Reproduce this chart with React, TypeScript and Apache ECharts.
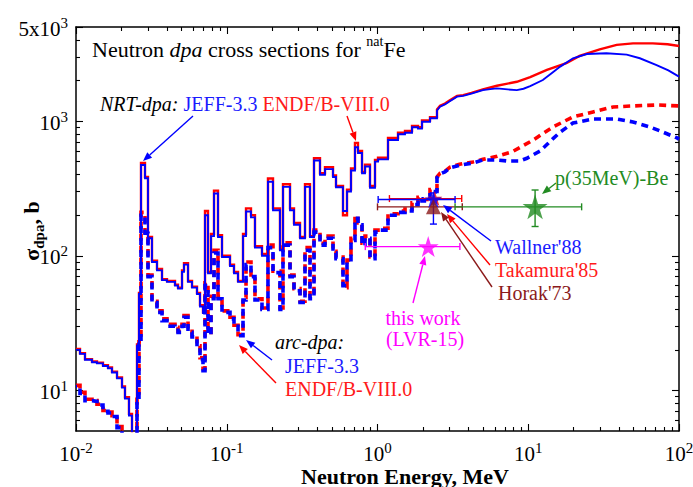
import React, { useEffect, useRef } from 'react';
import * as echarts from 'echarts';

const FONT = '"Liberation Serif", "Times New Roman", Times, serif';
const BLUE = '#0000ff';
const RED = '#ff0000';
const BLUE_T = '#1a1aff';
const RED_T = '#ff1a1a';
const BROWN = '#8b1a1a';
const MAGENTA = '#ff00ff';
const GREEN = '#228b22';

// ---- Energy group lower edges (MeV) of the histogram (group-wise) part ----
const groupEdges = [0.0100, 0.01063, 0.01147, 0.01277, 0.01378, 0.01510, 0.01630, 0.01733, 0.01871, 0.02019,
  0.02113, 0.02246, 0.02352, 0.02539, 0.02617, 0.02699, 0.02869, 0.03003, 0.03192, 0.03446,
  0.03720, 0.04014, 0.04537, 0.04750, 0.05050, 0.05205, 0.05534, 0.05883, 0.06348, 0.06646,
  0.06958, 0.07174, 0.07510, 0.07862, 0.08231, 0.08750, 0.09301, 0.1051, 0.1117, 0.1188,
  0.1282, 0.1342, 0.1448, 0.1539, 0.1713, 0.1877, 0.2027, 0.2255, 0.2361, 0.2628,
  0.2793, 0.3062, 0.3304, 0.3566, 0.3791, 0.4155, 0.4484, 0.5068, 0.5305, 0.5904,
  0.6276, 0.6671, 0.7090, 0.7423, 0.7893, 0.8263, 0.8917, 0.9625, 1.008, 1.174,
  1.368, 1.522, 1.694, 1.857, 1.973, 2.230];

// NRT-dpa, JEFF-3.3 (b), group values
const nrtJeff = [20.0, 18.7, 16.9, 16.2, 15.9, 15.2, 14.6, 13.6, 12.3, 10.5,
  8.7, 6.5, 3.0, 21.5, 52, 472, 377, 135, 90, 78,
  66, 64, 60, 57, 76, 86, 64, 58, 52, 42,
  37.5, 200, 74, 140, 290, 138, 98, 84, 74, 64,
  140, 213, 193, 115, 100, 355, 218, 110, 325, 218,
  170, 135, 325, 138, 510, 400, 440, 385, 323, 215,
  300, 430, 640, 580, 410, 460, 320, 500, 520, 725,
  800, 820, 900, 880, 990, 1050];
// NRT-dpa, ENDF/B-VIII.0
const nrtEndf = [20.3, 18.9, 17.1, 16.4, 16.1, 15.4, 14.8, 13.8, 12.5, 10.7,
  8.9, 6.7, 3.0, 22, 53, 490, 385, 138, 92, 80,
  67, 65, 61, 58, 78, 88, 65, 59, 53, 43,
  38, 215, 76, 145, 305, 142, 100, 86, 76, 65,
  145, 225, 200, 118, 103, 375, 225, 112, 340, 225,
  175, 138, 340, 140, 530, 410, 455, 395, 330, 200,
  310, 445, 690, 600, 420, 475, 330, 515, 535, 750,
  820, 845, 920, 900, 1010, 1070];
// arc-dpa, JEFF-3.3
const arcJeff = [10.7, 9.5, 8.4, 8.3, 7.8, 7.0, 6.8, 6.4, 5.3, 4.3,
  3.5, 3.0, 2.0, 8.4, 22, 200, 147, 70, 45, 38,
  33, 30, 29, 27, 30, 35, 27, 25, 21, 17,
  14, 60, 26, 48, 105, 48, 38, 34, 30, 25.5,
  47, 86, 70, 47, 40, 115, 75, 40, 120, 70,
  55, 45, 110, 48, 150, 120, 135, 105, 95, 60,
  90, 130, 190, 170, 120, 135, 95, 150, 155, 200,
  210, 215, 240, 265, 255, 300];
// arc-dpa, ENDF/B-VIII.0
const arcEndf = [10.9, 9.7, 8.6, 8.4, 7.9, 7.1, 6.9, 6.5, 5.4, 4.4,
  3.5, 3.0, 2.0, 8.6, 23, 210, 150, 72, 46, 39,
  34, 31, 29.5, 27.5, 31, 36, 27.5, 25.5, 21.5, 17.5,
  14.5, 63, 27, 50, 110, 50, 39, 35, 30.5, 26,
  49, 90, 72, 48, 41, 120, 77, 41, 125, 72,
  57, 46, 115, 50, 155, 124, 140, 108, 98, 58,
  93, 135, 198, 175, 124, 140, 98, 155, 160, 205,
  215, 222, 248, 272, 262, 310];

// ---- continuous (high-energy) part ----
const nrtJeffHiE = [2.481, 2.6, 2.8, 3.0, 3.37, 3.7, 4.2, 5.0, 5.6, 6.2, 7.3, 8.4, 9.3, 10.3, 12.5, 14.5, 16.3, 19.8, 24.5, 33, 45, 55, 71, 85, 100];
const nrtJeffHiS = [1200, 1280, 1330, 1400, 1520, 1540, 1600, 1700, 1730, 1750, 1720, 1700, 1740, 1820, 2020, 2300, 2540, 2930, 3150, 3190, 3120, 2930, 2610, 2380, 2140];
const nrtEndfHiE = [2.481, 2.6, 2.8, 3.0, 3.37, 3.7, 4.2, 5.0, 6.2, 8.4, 10.3, 13.3, 17.9, 21.9, 29.8, 38.6, 49.5, 67, 84, 100];
const nrtEndfHiS = [1220, 1300, 1350, 1420, 1540, 1560, 1620, 1720, 1830, 1960, 2120, 2400, 2690, 3050, 3410, 3680, 3780, 3780, 3720, 3610];
const arcJeffHiE = [2.481, 2.6, 2.8, 3.03, 3.5, 4.3, 5.0, 6.2, 7.2, 8.8, 9.8, 12, 13.3, 14.6, 16.3, 19.8, 26.9, 38.8, 49.5, 64, 78, 97, 100];
const arcJeffHiS = [380, 405, 420, 450, 470, 489, 515, 515, 506, 506, 530, 600, 670, 741, 830, 968, 1037, 1037, 986, 905, 830, 750, 735];
const arcEndfHiE = [2.481, 2.6, 2.8, 3.03, 3.5, 4.3, 5.0, 6.2, 7.9, 10.8, 14.6, 19.8, 26.9, 36.5, 49.5, 71.4, 100];
const arcEndfHiS = [385, 410, 425, 455, 478, 498, 520, 548, 595, 725, 905, 1075, 1170, 1274, 1297, 1318, 1297];

// ---- experimental points ----
const expNames = ["Takamura'85", "Wallner'88", "Horak'73", 'this work (LVR-15)', 'p(35MeV)-Be'];
const expEnergy = [2.40, 2.35, 2.35, 2.17, 11.1];
const expSigma = [266, 262, 231, 117, 231];
const expELow = [1.2, 1.01, 1.0, 0.83, 3.27];
const expEHigh = [3.62, 3.27, 3.65, 3.52, 22.6];
const expSLow = [266, 172, 231, 117, 165];
const expSHigh = [266, 293, 231, 117, 308];
const expColors = [RED, BLUE, BROWN, MAGENTA, GREEN];
const STAR = 'path://M50,2 L61.8,38.2 L99.5,38.2 L69,60.5 L80.6,96.5 L50,74.3 L19.4,96.5 L31,60.5 L0.5,38.2 L38.2,38.2 Z';
const expSymbols = [STAR, STAR, 'triangle', STAR, STAR];
const expSizes = [15, 17, 15, 21, 25];

// ---- axis ticks ----
const xTickValues = [0.01, 0.1, 1, 10, 100];
const xTickExp = ['-2', '-1', '0', '1', '2'];
const yTickValues = [10, 100, 1000, 5000];
const yTickBase = ['10', '10', '10', '5x10'];
const yTickExp = ['1', '2', '3', '3'];

const log10 = Math.log10;

function buildCurve(vals: number[], hiE: number[], hiS: number[]) {
  const pts: number[][] = [];
  for (let i = 0; i < groupEdges.length; i++) {
    const hi = i + 1 < groupEdges.length ? groupEdges[i + 1] : hiE[0];
    pts.push([groupEdges[i], vals[i]], [hi, vals[i]]);
  }
  for (let j = 0; j < hiE.length; j++) pts.push([hiE[j], hiS[j]]);
  return pts;
}

function arrow(x1: number, y1: number, x2: number, y2: number, color: string) {
  const a = Math.atan2(y2 - y1, x2 - x1);
  const L = 9, W = 3.6;
  const bx = x2 - L * Math.cos(a), by = y2 - L * Math.sin(a);
  const px = -Math.sin(a) * W, py = Math.cos(a) * W;
  return [
    { type: 'line', z: 60, shape: { x1, y1, x2: bx, y2: by }, style: { stroke: color, lineWidth: 1.4 } },
    { type: 'polygon', z: 60, shape: { points: [[x2, y2], [bx + px, by + py], [bx - px, by - py]] }, style: { fill: color } },
  ];
}

function txt(x: number, y: number, text: string, color: string, extra: any = {}) {
  const align = extra.align || 'left';
  const fs = extra.fontSize || 20;
  const fst = extra.fontStyle || 'normal';
  const fw = extra.fontWeight || 'normal';
  return {
    type: 'text', x, y, z: 60,
    rotation: extra.rotation || 0,
    style: {
      text, fill: color, fontFamily: FONT, fontSize: fs, fontStyle: fst, fontWeight: fw,
      font: `${fst} ${fw} ${fs}px ${FONT}`,
      textAlign: align, textVerticalAlign: 'middle', align, verticalAlign: 'middle',
      rich: extra.rich,
    },
  };
}

function buildOption() {
  const xMajor = xTickValues.map(log10);
  const xMinor: number[] = [];
  for (const d of [0.01, 0.1, 1, 10]) for (let m = 2; m <= 9; m++) xMinor.push(log10(m * d));
  const yMajor = yTickValues.map(log10);
  const yMinor: number[] = [];
  for (let m = 6; m <= 9; m++) yMinor.push(log10(m));
  for (const d of [10, 100]) for (let m = 2; m <= 9; m++) yMinor.push(log10(m * d));
  for (let m = 2; m <= 4; m++) yMinor.push(log10(m * 1000));

  const lineStyle = { color: '#000', width: 1.5 };
  const tickStyle = { color: '#000', width: 1.1 };
  const labelRich = {
    b: { fontFamily: FONT, fontSize: 21, color: '#000', lineHeight: 24, verticalAlign: 'bottom' },
    s: { fontFamily: FONT, fontSize: 15, color: '#000', lineHeight: 15, verticalAlign: 'top' },
  };

  const xVal = (pos: string, ticks: number[], len: number, label: boolean, line: boolean) => ({
    type: 'value', min: -2, max: 2, position: pos,
    axisLine: { show: line, onZero: false, lineStyle },
    axisTick: { show: true, inside: true, length: len, customValues: ticks, lineStyle: tickStyle },
    axisLabel: label ? {
      show: true, customValues: xMajor, margin: 9, rich: labelRich, fontFamily: FONT,
      formatter: (v: number) => {
        const i = xMajor.findIndex((t) => Math.abs(t - v) < 1e-6);
        return i < 0 ? '' : '{b|10}{s|' + xTickExp[i] + '}';
      },
    } : { show: false },
    splitLine: { show: false },
  });
  const yVal = (pos: string, ticks: number[], len: number, label: boolean, line: boolean) => ({
    type: 'value', min: log10(5), max: log10(5000), position: pos,
    axisLine: { show: line, onZero: false, lineStyle },
    axisTick: { show: true, inside: true, length: len, customValues: ticks, lineStyle: tickStyle },
    axisLabel: label ? {
      show: true, customValues: yMajor, margin: 8, rich: labelRich, fontFamily: FONT,
      formatter: (v: number) => {
        const i = yMajor.findIndex((t) => Math.abs(t - v) < 1e-6);
        return i < 0 ? '' : '{b|' + yTickBase[i] + '}{s|' + yTickExp[i] + '}';
      },
    } : { show: false },
    splitLine: { show: false },
  });

  const curve = (name: string, data: number[][], color: string, width: number, type: any, offset = 0, z = 2) => ({
    name, type: 'line', xAxisIndex: 0, yAxisIndex: 0, data, showSymbol: false, symbol: 'none',
    clip: true, silent: true, z,
    lineStyle: { color, width, type, dashOffset: offset, cap: 'butt', join: 'miter' },
  });

  const titleRich = {
    n: { fontFamily: FONT, fontSize: 22, fill: '#000', lineHeight: 26, verticalAlign: 'bottom' },
    i: { fontFamily: FONT, fontSize: 22, fontStyle: 'italic', fill: '#000', lineHeight: 26, verticalAlign: 'bottom' },
    s: { fontFamily: FONT, fontSize: 14, fill: '#000', lineHeight: 15, verticalAlign: 'top' },
  };
  const nrtRich = {
    i: { fontFamily: FONT, fontSize: 20, fontStyle: 'italic', fill: '#000' },
    bl: { fontFamily: FONT, fontSize: 20, fill: BLUE_T },
    rd: { fontFamily: FONT, fontSize: 20, fill: RED_T },
  };
  const yTitleRich = {
    b: { fontFamily: FONT, fontSize: 22, fontWeight: 'bold', fill: '#000', lineHeight: 26, verticalAlign: 'top' },
    sub: { fontFamily: FONT, fontSize: 15, fontWeight: 'bold', fill: '#000', lineHeight: 13, verticalAlign: 'bottom' },
  };

  const graphics: any[] = [
    txt(92, 47, '{n|Neutron }{i|dpa}{n| cross sections for }{s|nat}{n|Fe}', '#000', { rich: titleRich, fontSize: 22 }),
    txt(100, 104, '{i|NRT-dpa:} {bl|JEFF-3.3} {rd|ENDF/B-VIII.0}', '#000', { rich: nrtRich }),
    txt(275, 342, 'arc-dpa:', '#000', { fontStyle: 'italic' }),
    txt(285, 366, 'JEFF-3.3', BLUE_T),
    txt(285, 389, 'ENDF/B-VIII.0', RED_T),
    txt(555, 178, 'p(35MeV)-Be', GREEN),
    txt(495, 247, "Wallner'88", BLUE_T),
    txt(495, 270, "Takamura'85", RED_T),
    txt(498, 293, "Horak'73", BROWN),
    txt(423, 318, 'this work', MAGENTA, { align: 'center' }),
    txt(425, 339, '(LVR-15)', MAGENTA, { align: 'center' }),
    txt(405, 476, 'Neutron Energy, MeV', '#000', { align: 'center', fontWeight: 'bold', fontSize: 22 }),
    txt(33, 231, '{b|σ}{sub|dpa}{b|, b}', '#000', { align: 'center', rotation: Math.PI / 2, rich: yTitleRich, fontWeight: 'bold', fontSize: 22 }),
    ...arrow(193, 116, 143, 161, BLUE),
    ...arrow(347, 116, 356, 141, RED),
    ...arrow(272, 360, 246, 340, BLUE),
    ...arrow(276, 383, 239, 345, RED),
    ...arrow(556, 183, 542, 194, GREEN),
    ...arrow(491, 241, 443, 205, BLUE),
    ...arrow(490, 265, 447, 214, RED),
    ...arrow(492, 287, 441, 212, BROWN),
    ...arrow(413, 303, 425, 256, MAGENTA),
  ];

  return {
    animation: false,
    backgroundColor: '#fff',
    textStyle: { fontFamily: FONT },
    grid: { left: 76, right: 14, top: 27, bottom: 56, outerBoundsMode: 'none' },
    xAxis: [
      { type: 'log', logBase: 10, min: 0.01, max: 100, position: 'bottom', axisLine: { show: true, onZero: false, lineStyle }, axisTick: { show: false }, axisLabel: { show: false }, splitLine: { show: false } },
      xVal('bottom', xMajor, 7, true, false),
      xVal('bottom', xMinor, 4, false, false),
      xVal('top', xMajor, 7, false, true),
      xVal('top', xMinor, 4, false, false),
    ],
    yAxis: [
      { type: 'log', logBase: 10, min: 5, max: 5000, position: 'left', axisLine: { show: true, onZero: false, lineStyle }, axisTick: { show: false }, axisLabel: { show: false }, splitLine: { show: false } },
      yVal('left', yMajor, 7, true, false),
      yVal('left', yMinor, 4, false, false),
      yVal('right', yMajor, 7, false, true),
      yVal('right', yMinor, 4, false, false),
    ],
    series: [
      curve('NRT-dpa ENDF/B-VIII.0', buildCurve(nrtEndf, nrtEndfHiE, nrtEndfHiS), RED, 2.4, 'solid', 0, 2),
      curve('NRT-dpa JEFF-3.3', buildCurve(nrtJeff, nrtJeffHiE, nrtJeffHiS), BLUE, 1.9, 'solid', 0, 3),
      curve('arc-dpa ENDF/B-VIII.0', buildCurve(arcEndf, arcEndfHiE, arcEndfHiS), RED, 3.6, [7, 5], 0, 2),
      curve('arc-dpa JEFF-3.3', buildCurve(arcJeff, arcJeffHiE, arcJeffHiS), BLUE, 3.6, [7, 5], 6, 3),
      {
        name: 'error bars', type: 'custom', xAxisIndex: 0, yAxisIndex: 0, z: 4, silent: true,
        data: expEnergy.map((e, i) => [e, expSigma[i], expELow[i], expEHigh[i], expSLow[i], expSHigh[i]]),
        renderItem: (params: any, api: any) => {
          const i = params.dataIndex;
          const st = { stroke: expColors[i], lineWidth: 1.4 };
          const e = api.value(0), s = api.value(1);
          const pl = api.coord([api.value(2), s]);
          const pr = api.coord([api.value(3), s]);
          const children: any[] = [
            { type: 'line', shape: { x1: pl[0], y1: pl[1], x2: pr[0], y2: pr[1] }, style: st },
            { type: 'line', shape: { x1: pl[0], y1: pl[1] - 3.5, x2: pl[0], y2: pl[1] + 3.5 }, style: st },
            { type: 'line', shape: { x1: pr[0], y1: pr[1] - 3.5, x2: pr[0], y2: pr[1] + 3.5 }, style: st },
          ];
          if (api.value(5) > api.value(4)) {
            const pb = api.coord([e, api.value(4)]);
            const pt = api.coord([e, api.value(5)]);
            children.push(
              { type: 'line', shape: { x1: pb[0], y1: pb[1], x2: pt[0], y2: pt[1] }, style: st },
              { type: 'line', shape: { x1: pb[0] - 3.5, y1: pb[1], x2: pb[0] + 3.5, y2: pb[1] }, style: st },
              { type: 'line', shape: { x1: pt[0] - 3.5, y1: pt[1], x2: pt[0] + 3.5, y2: pt[1] }, style: st },
            );
          }
          return { type: 'group', children };
        },
      },
      {
        name: 'experiments', type: 'scatter', xAxisIndex: 0, yAxisIndex: 0, z: 5, silent: true,
        data: expEnergy.map((e, i) => ({
          name: expNames[i], value: [e, expSigma[i]], symbol: expSymbols[i], symbolSize: expSizes[i],
          itemStyle: { color: expColors[i] },
        })),
      },
    ],
    graphic: { elements: graphics },
  };
}

export default function App() {
  const ref = useRef<HTMLDivElement>(null);
  useEffect(() => {
    if (!ref.current) return;
    const chart = echarts.init(ref.current, null, { renderer: 'svg' });
    chart.setOption(buildOption() as any);
    return () => chart.dispose();
  }, []);
  return <div ref={ref} style={{ position: 'fixed', left: 0, top: 0, width: 693, height: 487, background: '#fff' }} />;
}
